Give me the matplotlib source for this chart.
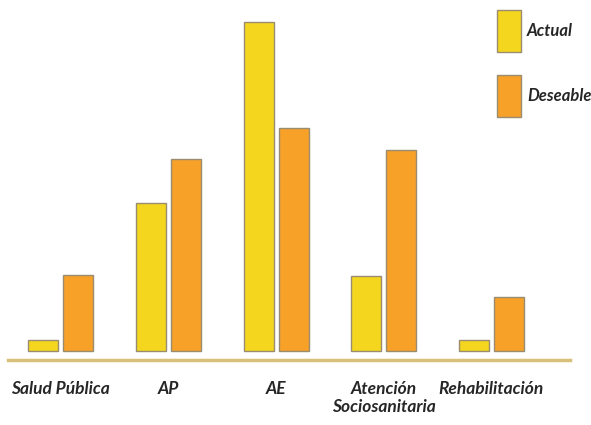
import numpy as np
import matplotlib.pyplot as plt
from matplotlib.patches import Rectangle

categories = ["Salud Pública", "AP", "AE", "Atención\nSociosanitaria", "Rehabilitación"]
actual = [1.5, 20.3, 45.0, 10.2, 1.5]
deseable = [10.4, 26.2, 30.5, 27.5, 7.4]
series_names = ["Actual", "Deseable"]
colors = ["#F4D61E", "#F7A129"]
edge = "#9A8C70"

plt.rcParams["font.family"] = ["Lato", "DejaVu Sans"]

fig = plt.figure(figsize=(5.91, 4.25), dpi=100)
ax = fig.add_axes([8 / 591, (425 - 360) / 425, 562 / 591, 350 / 425])

x = np.arange(len(categories))
w = 0.279
off = 0.1626
ax.bar(x - off, actual, w, color=colors[0], edgecolor=edge, linewidth=1)
ax.bar(x + off, deseable, w, color=colors[1], edgecolor=edge, linewidth=1)

ax.set_xlim(-0.49, 4.731)
ax.set_ylim(-1.23, 46.64)
ax.axhline(-1.23, color="#D9C07A", linewidth=2.5, clip_on=False)
for s in ax.spines.values():
    s.set_visible(False)
ax.set_yticks([])
ax.set_xticks(x)
ax.set_xticklabels(categories, fontsize=12.5, fontweight="bold", fontstyle="italic",
                   color="#262626", linespacing=1.15, va="top")
ax.tick_params(axis="x", length=0, pad=15)

# legend drawn as stacked tall swatches
for i, (name, c) in enumerate(zip(series_names, colors)):
    y0 = 1 - (52 + i * 65) / 425
    fig.patches.append(Rectangle((497 / 591, y0), 24 / 591, 42 / 425,
                                 transform=fig.transFigure, facecolor=c,
                                 edgecolor=edge, linewidth=1))
    fig.text(527 / 591, y0 + 21 / 425, name, fontsize=12, fontweight="bold",
             fontstyle="italic", color="#262626", va="center", ha="left")

fig.savefig("out.png", dpi=100, facecolor="white")
